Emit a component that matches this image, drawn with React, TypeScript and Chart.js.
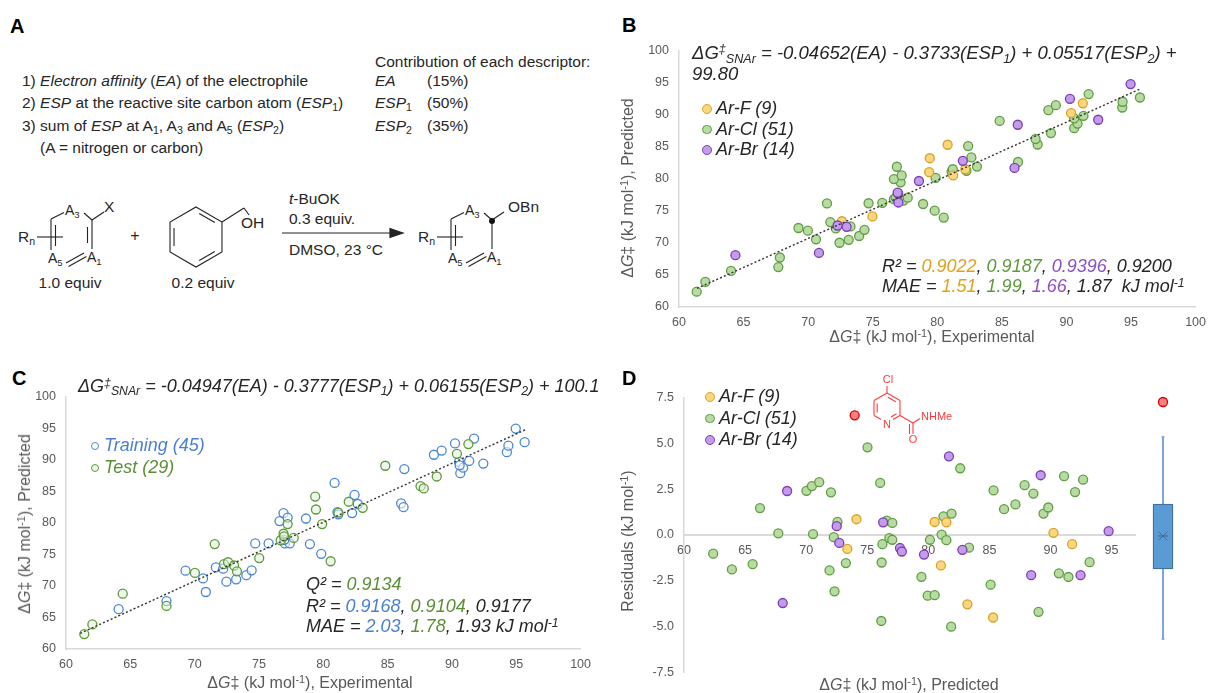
import React, { useEffect, useRef } from "react";
import { Chart, registerables } from "chart.js";

Chart.register(...registerables);

// ---------- axis ticks ----------
const parityTicks = [60, 65, 70, 75, 80, 85, 90, 95, 100];
const predictedTicks = [60, 65, 70, 75, 80, 85, 90, 95];
const residualTicks = [-7.5, -5, -2.5, 0, 2.5, 5, 7.5];

// ---------- panel B: experimental vs predicted, by halogen ----------
const haloLabels = ["Ar-F (9)", "Ar-Cl (51)", "Ar-Br (14)"];
const fExp = [74.98, 72.61, 81.23, 82.17, 79.37, 79.42, 80.8, 90.36, 91.27];
const fPred = [74.12, 73.37, 80.52, 81.48, 81.03, 83.2, 85.3, 90.24, 91.77];
const clExp = [
  61.37, 62.04, 64.03, 67.69, 67.81, 72.43, 73.14, 73.95, 74.36, 70.61,
  72.14, 73.28, 69.98, 69.25, 71.72, 79.8, 78.9, 75.74, 74.68, 71.46,
  77.38, 76.64, 77.71, 76.79, 77.16, 76.64, 79.87, 77.24, 81.11, 82.26,
  81.2, 83.07, 76.87, 86.25, 82.64, 82.39, 87.77, 87.61, 88.8, 90.6,
  90.86, 84.83, 90.6, 91.32, 88.6, 94.32, 89.18, 94.35, 95.69, 91.72, 80.5,
];
const clPred = [
  62.39, 63.92, 65.62, 66.22, 67.72, 70.02, 70.47, 71.07, 72.03, 70.56,
  72.26, 72.56, 71.91, 72.32, 73.25, 75.02, 76.06, 76.24, 76.18, 76.15,
  76.6, 76.81, 77.05, 77.05, 79.44, 79.95, 80.13, 80.52, 81.09, 81.24,
  81.48, 81.9, 81.87, 82.61, 83.33, 85.1, 85.34, 86.2, 87.13, 87.88,
  88.6, 89.02, 89.43, 89.82, 90.69, 91.11, 91.47, 92.01, 92.67, 93.2, 73.95,
];
const brExp = [70.84, 64.37, 72.98, 72.28, 76.99, 76.97, 76.93, 78.58, 85.98, 81.98, 86.23, 92.46, 90.27, 94.97];
const brPred = [68.44, 68.08, 72.5, 72.71, 76.3, 77.68, 77.83, 79.65, 81.69, 82.79, 88.42, 89.2, 92.46, 94.76];
const trendBx = [61.4, 95.7];
const trendBy = [62.9, 94.0];

// ---------- panel C: training / test split ----------
const splitLabels = ["Training (45)", "Test (29)"];
const trainExp = [
  64.09, 67.81, 69.29, 70.65, 70.87, 71.65, 72.22, 72.47, 73.23, 74.02,
  74.43, 74.71, 75.75, 76.6, 76.91, 77.01, 77.23, 77.39, 78.65, 78.96,
  79.84, 80.88, 81.1, 81.17, 82.24, 82.43, 82.68, 86.05, 86.24, 86.3,
  88.6, 89.2, 90.24, 90.55, 90.65, 90.87, 91.34, 91.72, 92.44, 94.27,
  94.39, 94.96, 95.65, 76.97, 90.6,
];
const trainPred = [
  66.31, 67.59, 72.41, 71.18, 69.03, 72.92, 72.72, 70.67, 71.03, 71.69,
  72.46, 76.72, 76.72, 80.26, 81.54, 76.72, 80.82, 76.72, 80.67, 76.62,
  75.08, 86.31, 81.69, 81.33, 81.54, 84.41, 82.97, 83.08, 82.46, 88.51,
  90.77, 91.44, 92.56, 89.64, 87.85, 88.72, 89.79, 93.33, 89.38, 91.18,
  92.21, 94.92, 92.77, 77.3, 89.1,
];
const testExp = [
  61.42, 62.05, 64.41, 67.81, 70.02, 71.56, 72.28, 72.6, 73.07, 73.29,
  75.02, 76.69, 76.91, 76.95, 77.23, 77.7, 79.37, 79.43, 79.91, 80.57,
  81.17, 81.98, 83.06, 84.82, 87.56, 87.81, 88.82, 90.39, 91.28,
];
const testPred = [
  62.36, 63.9, 68.77, 66.82, 72.05, 76.62, 73.44, 73.74, 73.23, 72.31,
  74.41, 77.23, 78.26, 77.85, 79.79, 77.59, 84.15, 82.1, 79.79, 73.9,
  81.59, 83.33, 82.36, 89.03, 85.79, 85.44, 87.33, 90.92, 92.46,
];
const trendCx = [61.1, 95.75];
const trendCy = [62.46, 94.77];

// ---------- panel D: residuals vs predicted ----------
const fPredD = [74.12, 73.37, 80.52, 81.48, 81.03, 83.2, 85.3, 90.24, 91.77];
const fResid = [0.86, -0.76, 0.71, 0.69, -1.66, -3.78, -4.5, 0.12, -0.5];
const clPredD = [
  62.39, 63.92, 65.62, 66.22, 67.72, 70.02, 70.47, 71.07, 72.03, 70.56,
  72.26, 72.56, 71.91, 72.32, 73.25, 75.02, 76.06, 76.24, 76.18, 76.15,
  76.6, 76.81, 77.05, 77.05, 79.44, 79.95, 80.13, 80.52, 81.09, 81.24,
  81.48, 81.9, 81.87, 82.61, 83.33, 85.1, 85.34, 86.2, 87.13, 87.88,
  88.6, 89.02, 89.43, 89.82, 90.69, 91.11, 91.47, 92.01, 92.67, 93.2,
];
const clResid = [
  -1.02, -1.88, -1.59, 1.47, 0.09, 2.41, 2.67, 2.88, 2.33, 0.05,
  -0.12, 0.72, -1.93, -3.07, -1.53, 4.78, 2.84, -0.5, -1.5, -4.69,
  0.78, -0.17, 0.66, -0.26, -2.28, -3.31, -0.26, -3.28, 0.02, 1.02,
  -0.28, 1.17, -5.0, 3.64, -0.69, -2.71, 2.43, 1.41, 1.67, 2.72,
  2.26, -4.19, 1.17, 1.5, -2.09, 3.21, -2.29, 2.34, 3.02, -1.48,
];
const brPredD = [68.44, 68.08, 72.5, 72.71, 76.3, 77.68, 77.83, 79.65, 81.69, 82.79, 88.42, 89.2, 92.46, 94.76];
const brResid = [2.4, -3.71, 0.48, -0.43, 0.69, -0.71, -0.9, -1.07, 4.29, -0.81, -2.19, 3.26, -2.19, 0.21];
const outlierPred = [73.97];
const outlierResid = [6.53];

// box & whisker of all residuals
const boxWhiskers = [-5.38, 5.07];
const boxQuartiles = [-1.76, 1.6];
const boxMedian = [-0.05];
const boxMean = [-0.05];
const boxOutliers = [6.88];

// ---------- styles ----------
const FONT = '"Liberation Sans", Arial, Helvetica, sans-serif';
const INK = "#262626";
const TICK = "#595959";
const AXIS = "#D9D9D9";
const C_F = { fill: "#F9D77E", line: "#D9A227", text: "#E0A21E" };
const C_CL = { fill: "#B9DBA3", line: "#5F9E44", text: "#5E9A3C" };
const C_BR = { fill: "#C49BE8", line: "#7A3DB8", text: "#8B4FCB" };
const C_TR = { fill: "rgba(255,255,255,0.55)", line: "#4A86D8", text: "#4A7FD4" };
const C_TE = { fill: "rgba(226,239,218,0.55)", line: "#5E9A3C", text: "#5A8F37" };
const C_RED = { fill: "#FF7F7F", line: "#D60000" };
const RED = "#FF3B3B";

const zip = (xs: number[], ys: number[]) => xs.map((x, i) => ({ x, y: ys[i] }));

const points = (xs: number[], ys: number[], c: any, order: number) => ({
  type: "scatter",
  data: zip(xs, ys),
  order,
  pointRadius: 4.5,
  pointBorderWidth: 1.3,
  backgroundColor: c.fill,
  borderColor: c.line,
});

const trend = (xs: number[], ys: number[]) => ({
  type: "line",
  data: zip(xs, ys),
  order: 0,
  borderColor: "#333333",
  borderWidth: 1.4,
  borderDash: [2, 2.2],
  pointRadius: 0,
  fill: false,
});

const tickFont = { family: FONT, size: 12.5 };

function axisX(min: number, max: number, ticks: number[], extra: any = {}) {
  return {
    type: "linear",
    min,
    max,
    afterBuildTicks: (s: any) => {
      s.ticks = ticks.map((v) => ({ value: v }));
    },
    afterFit: (s: any) => {
      s.height = 30;
    },
    grid: { display: false, drawTicks: false },
    border: { display: true, color: AXIS, width: 1.5 },
    ticks: { color: TICK, font: tickFont, padding: 8, maxRotation: 0, autoSkip: false },
    ...extra,
  };
}

function axisY(min: number, max: number, ticks: number[], fmt?: (v: number) => string) {
  return {
    type: "linear",
    min,
    max,
    afterBuildTicks: (s: any) => {
      s.ticks = ticks.map((v) => ({ value: v }));
    },
    afterFit: (s: any) => {
      s.width = 45;
    },
    grid: { display: false, drawTicks: false },
    border: { display: true, color: AXIS, width: 1.5 },
    ticks: {
      color: TICK,
      font: tickFont,
      padding: 10,
      autoSkip: false,
      callback: (v: any) => (fmt ? fmt(Number(v)) : String(v)),
    },
  };
}

function baseOptions(padding: any, scales: any) {
  return {
    animation: false,
    responsive: false,
    events: [],
    layout: { padding, autoPadding: false },
    plugins: { legend: { display: false }, tooltip: { enabled: false } },
    scales,
  };
}

function ChartCanvas({ left, top, width, height, config }: any) {
  const ref = useRef<HTMLCanvasElement>(null);
  useEffect(() => {
    if (!ref.current) return;
    const chart = new Chart(ref.current, config());
    return () => chart.destroy();
  }, []);
  return (
    <canvas
      ref={ref}
      width={width}
      height={height}
      style={{ position: "absolute", left, top, width, height }}
    />
  );
}

// ---------- text helpers ----------
const Sub = ({ children }: any) => (
  <span style={{ fontSize: "0.68em", verticalAlign: "-0.28em", lineHeight: 0 }}>{children}</span>
);
const Sup = ({ children }: any) => (
  <span style={{ fontSize: "0.68em", verticalAlign: "0.45em", lineHeight: 0 }}>{children}</span>
);

function Txt({ x, y, size = 18, color = INK, italic = false, bold = false, center = false, children }: any) {
  return (
    <div
      style={{
        position: "absolute",
        left: x,
        top: y - size * 0.6,
        height: size * 1.2,
        lineHeight: `${size * 1.2}px`,
        fontSize: size,
        fontFamily: FONT,
        fontStyle: italic ? "italic" : "normal",
        fontWeight: bold ? 700 : 400,
        color,
        whiteSpace: "nowrap",
        transform: center ? "translateX(-50%)" : undefined,
      }}
    >
      {children}
    </div>
  );
}

function VTxt({ x, y, size = 16, color = TICK, children }: any) {
  return (
    <div
      style={{
        position: "absolute",
        left: x,
        top: y,
        transform: "translate(-50%, -50%) rotate(-90deg)",
        fontSize: size,
        fontFamily: FONT,
        color,
        whiteSpace: "nowrap",
        lineHeight: 1,
      }}
    >
      {children}
    </div>
  );
}

function LegendItem({ x, y, c, label, r = 4.9, color = INK }: any) {
  return (
    <>
      <div
        style={{
          position: "absolute",
          left: x - r,
          top: y - r,
          width: 2 * r,
          height: 2 * r,
          borderRadius: "50%",
          background: c.fill,
          border: `1.3px solid ${c.line}`,
          boxSizing: "border-box",
        }}
      />
      <Txt x={x + 9} y={y} size={18} italic color={color}>
        {label}
      </Txt>
    </>
  );
}

const dG = (
  <>
    Δ<i>G</i>‡ (kJ mol<Sup>-1</Sup>)
  </>
);

// ---------- drawings (reaction scheme & inset molecule) ----------
type P = [number, number];
function innerBond(p: P, q: P, c: P, d = 4, s = 0.2) {
  const mx = (p[0] + q[0]) / 2;
  const my = (p[1] + q[1]) / 2;
  const vx = c[0] - mx;
  const vy = c[1] - my;
  const len = Math.hypot(vx, vy);
  const ox = (vx / len) * d;
  const oy = (vy / len) * d;
  return {
    x1: p[0] + (q[0] - p[0]) * s + ox,
    y1: p[1] + (q[1] - p[1]) * s + oy,
    x2: q[0] - (q[0] - p[0]) * s + ox,
    y2: q[1] - (q[1] - p[1]) * s + oy,
  };
}
function hexPts(cx: number, cy: number, r: number): P[] {
  return [-90, -30, 30, 90, 150, 210].map((a) => [
    cx + r * Math.cos((a * Math.PI) / 180),
    cy + r * Math.sin((a * Math.PI) / 180),
  ]) as P[];
}

function ArylRing({ ox, product }: { ox: number; product?: boolean }) {
  return (
    <g transform={`translate(${ox},0)`} stroke="#222" strokeWidth={1.1} fill="none">
      <line x1={37} y1={237} x2={63} y2={237} />
      <line x1={51} y1={219} x2={51} y2={250} />
      <line x1={55.5} y1={225} x2={55.5} y2={246} />
      <line x1={51} y1={219} x2={64} y2={212.5} />
      <line x1={84} y1={213} x2={92} y2={220} />
      <line x1={92} y1={220} x2={92} y2={249} />
      {!product && <line x1={87.5} y1={227} x2={87.5} y2={243} />}
      <line x1={92} y1={220} x2={104} y2={212} />
      <line x1={66} y1={263} x2={84} y2={253} />
      <line x1={68.5} y1={266.5} x2={86.5} y2={256.5} />
      {product && <circle cx={92} cy={221} r={3} fill="#111" stroke="none" />}
    </g>
  );
}

function Drawings() {
  const benz = hexPts(196, 237, 30);
  const bc: P = [196, 237];
  const pyr = hexPts(887, 408, 15);
  const pc: P = [887, 408];
  return (
    <svg
      width={1214}
      height={693}
      style={{ position: "absolute", left: 0, top: 0, pointerEvents: "none" }}
    >
      <ArylRing ox={0} />
      <ArylRing ox={400} product />
      {/* benzyl alcohol */}
      <g stroke="#222" strokeWidth={1.1} fill="none">
        <polygon points={benz.map((p) => p.join(",")).join(" ")} />
        <line {...innerBond(benz[0], benz[1], bc)} />
        <line {...innerBond(benz[2], benz[3], bc)} />
        <line {...innerBond(benz[4], benz[5], bc)} />
        <line x1={benz[1][0]} y1={benz[1][1]} x2={244} y2={208} />
        <line x1={244} y1={208} x2={249} y2={215} />
      </g>
      {/* reaction arrow */}
      <g stroke="#222" strokeWidth={1.2}>
        <line x1={282} y1={233} x2={394} y2={233} />
        <polygon points="403,233 390,228.5 390,237.5" fill="#222" />
      </g>
      {/* inset molecule in D */}
      <g stroke={RED} strokeWidth={1.1} fill="none">
        <line x1={pyr[5][0]} y1={pyr[5][1]} x2={pyr[0][0]} y2={pyr[0][1]} />
        <line x1={pyr[0][0]} y1={pyr[0][1]} x2={pyr[1][0]} y2={pyr[1][1]} />
        <line x1={pyr[1][0]} y1={pyr[1][1]} x2={pyr[2][0]} y2={pyr[2][1]} />
        <line x1={pyr[2][0]} y1={pyr[2][1]} x2={893} y2={419.5} />
        <line x1={881} y1={419.5} x2={pyr[4][0]} y2={pyr[4][1]} />
        <line x1={pyr[4][0]} y1={pyr[4][1]} x2={pyr[5][0]} y2={pyr[5][1]} />
        <line {...innerBond(pyr[4], pyr[5], pc, 3.2)} />
        <line {...innerBond(pyr[0], pyr[1], pc, 3.2)} />
        <line {...innerBond(pyr[2], [892, 420], pc, 3.2, 0.15)} />
        <line x1={887} y1={393} x2={887} y2={386} />
        <line x1={pyr[2][0]} y1={pyr[2][1]} x2={913} y2={423} />
        <line x1={913} y1={423} x2={920} y2={418.5} />
        <line x1={913} y1={423} x2={913} y2={434} />
        <line x1={909.5} y1={424} x2={909.5} y2={434} />
      </g>
    </svg>
  );
}

// ---------- chart configs ----------
const configB = () => ({
  type: "scatter",
  data: {
    datasets: [
      trend(trendBx, trendBy),
      points(brExp, brPred, C_BR, 1),
      points(fExp, fPred, C_F, 2),
      points(clExp, clPred, C_CL, 3),
    ],
  },
  options: baseOptions(
    { top: 10, right: 14, bottom: 0, left: 0 },
    { x: axisX(60, 100, parityTicks), y: axisY(60, 100, parityTicks) }
  ),
});

const configC = () => ({
  type: "scatter",
  data: {
    datasets: [
      trend(trendCx, trendCy),
      points(testExp, testPred, C_TE, 1),
      points(trainExp, trainPred, C_TR, 2),
    ],
  },
  options: baseOptions(
    { top: 10, right: 14, bottom: 0, left: 0 },
    { x: axisX(60, 100, parityTicks), y: axisY(60, 100, parityTicks) }
  ),
});

const configD = () => ({
  type: "scatter",
  data: {
    datasets: [
      points(outlierPred, outlierResid, C_RED, 0),
      points(brPredD, brResid, C_BR, 1),
      points(fPredD, fResid, C_F, 2),
      points(clPredD, clResid, C_CL, 3),
    ],
  },
  options: baseOptions(
    { top: 10, right: 0, bottom: 10, left: 0 },
    {
      x: axisX(60, 97, predictedTicks, {
        position: { y: 0 },
        border: { display: true, color: AXIS, width: 2 },
      }),
      y: axisY(-7.5, 7.5, residualTicks, (v) => v.toFixed(1)),
    }
  ),
});

const seg = (xs: number[], ys: number[], color: string, width: number, order: number) => ({
  type: "line",
  data: zip(xs, ys),
  borderColor: color,
  borderWidth: width,
  pointRadius: 0,
  fill: false,
  order,
});

const configBox = () => ({
  type: "scatter",
  data: {
    datasets: [
      {
        type: "scatter",
        data: zip([1], boxMean),
        pointStyle: "crossRot",
        pointRadius: 6,
        borderColor: "#3F6E9C",
        borderWidth: 1,
        order: 0,
      },
      points([1], boxOutliers, C_RED, 0),
      seg([0.667, 1.333], [boxMedian[0], boxMedian[0]], "#3F6E9C", 1.2, 1),
      {
        type: "bar",
        data: [{ x: 1, y: boxQuartiles }],
        backgroundColor: "#5B9BD5",
        borderColor: "#41719C",
        borderWidth: 1.3,
        borderSkipped: false,
        barThickness: 20,
        order: 2,
      },
      seg([1, 1], [boxQuartiles[1], boxWhiskers[1]], "#7EA7D3", 2, 3),
      seg([1, 1], [boxWhiskers[0], boxQuartiles[0]], "#7EA7D3", 2, 3),
      seg([0.9, 1.1], [boxWhiskers[1], boxWhiskers[1]], "#7EA7D3", 1.6, 3),
      seg([0.9, 1.1], [boxWhiskers[0], boxWhiskers[0]], "#7EA7D3", 1.6, 3),
    ],
  },
  options: baseOptions(
    { top: 10, right: 0, bottom: 10, left: 0 },
    {
      x: { type: "linear", min: 0, max: 2, display: false },
      y: { type: "linear", min: -7.5, max: 7.5, display: false },
    }
  ),
});

// ---------- panels ----------
function PanelA() {
  const s = 15.5;
  return (
    <>
      <Txt x={10} y={26} size={20} bold color="#000">A</Txt>
      <Txt x={22} y={81} size={s}>
        1) <i>Electron affinity</i> (<i>EA</i>) of the electrophile
      </Txt>
      <Txt x={22} y={103} size={s}>
        2) <i>ESP</i> at the reactive site carbon atom (<i>ESP</i><Sub>1</Sub>)
      </Txt>
      <Txt x={22} y={126} size={s}>
        3) sum of <i>ESP</i> at A<Sub>1</Sub>, A<Sub>3</Sub> and A<Sub>5</Sub> (<i>ESP</i><Sub>2</Sub>)
      </Txt>
      <Txt x={40} y={148} size={s}>(A = nitrogen or carbon)</Txt>
      <Txt x={375} y={62} size={s}>Contribution of each descriptor:</Txt>
      <Txt x={375} y={81} size={s}><i>EA</i></Txt>
      <Txt x={427} y={81} size={s}>(15%)</Txt>
      <Txt x={375} y={103} size={s}><i>ESP</i><Sub>1</Sub></Txt>
      <Txt x={427} y={103} size={s}>(50%)</Txt>
      <Txt x={375} y={126} size={s}><i>ESP</i><Sub>2</Sub></Txt>
      <Txt x={427} y={126} size={s}>(35%)</Txt>

      <Txt x={18} y={237} size={s}>R<Sub>n</Sub></Txt>
      <Txt x={65} y={210} size={14}>A<Sub>3</Sub></Txt>
      <Txt x={104} y={207} size={s}>X</Txt>
      <Txt x={48} y={258} size={14}>A<Sub>5</Sub></Txt>
      <Txt x={87} y={257} size={14}>A<Sub>1</Sub></Txt>
      <Txt x={135} y={236} size={16} center>+</Txt>
      <Txt x={241} y={223} size={s}>OH</Txt>
      <Txt x={289} y={199} size={s}><i>t</i>-BuOK</Txt>
      <Txt x={289} y={219} size={s}>0.3 equiv.</Txt>
      <Txt x={289} y={250} size={s}>DMSO, 23 °C</Txt>
      <Txt x={418} y={237} size={s}>R<Sub>n</Sub></Txt>
      <Txt x={465} y={210} size={14}>A<Sub>3</Sub></Txt>
      <Txt x={508} y={207} size={s}>OBn</Txt>
      <Txt x={448} y={258} size={14}>A<Sub>5</Sub></Txt>
      <Txt x={487} y={257} size={14}>A<Sub>1</Sub></Txt>
      <Txt x={70} y={283} size={s} center>1.0 equiv</Txt>
      <Txt x={203} y={283} size={s} center>0.2 equiv</Txt>
    </>
  );
}

function PanelB() {
  return (
    <>
      <Txt x={622} y={25} size={20} bold color="#000">B</Txt>
      <ChartCanvas left={634} top={33} width={580} height={304} config={configB} />
      <VTxt x={628} y={188}>{dG}, Predicted</VTxt>
      <Txt x={932} y={337} size={16} color={TICK} center>{dG}, Experimental</Txt>
      <Txt x={692} y={53} size={18.5} italic>
        ΔG<Sup>‡</Sup><Sub>SNAr</Sub> = -0.04652(EA) - 0.3733(ESP<Sub>1</Sub>) + 0.05517(ESP<Sub>2</Sub>) +
      </Txt>
      <Txt x={692} y={74} size={18.5} italic>99.80</Txt>
      <LegendItem x={707} y={109} c={C_F} label={haloLabels[0]} />
      <LegendItem x={707} y={129.5} c={C_CL} label={haloLabels[1]} />
      <LegendItem x={707} y={150} c={C_BR} label={haloLabels[2]} />
      <Txt x={882} y={267} size={18} italic>
        R² = <span style={{ color: C_F.text }}>0.9022</span>,{" "}
        <span style={{ color: C_CL.text }}>0.9187</span>,{" "}
        <span style={{ color: C_BR.text }}>0.9396</span>, 0.9200
      </Txt>
      <Txt x={882} y={287} size={18} italic>
        MAE = <span style={{ color: C_F.text }}>1.51</span>,{" "}
        <span style={{ color: C_CL.text }}>1.99</span>,{" "}
        <span style={{ color: C_BR.text }}>1.66</span>, 1.87&nbsp; kJ mol<Sup>-1</Sup>
      </Txt>
    </>
  );
}

function PanelC() {
  return (
    <>
      <Txt x={12} y={378} size={20} bold color="#000">C</Txt>
      <ChartCanvas left={21} top={379} width={578} height={300} config={configC} />
      <VTxt x={25} y={524}>{dG}, Predicted</VTxt>
      <Txt x={310} y={683} size={16} color={TICK} center>{dG}, Experimental</Txt>
      <Txt x={78} y={387} size={18} italic>
        ΔG<Sup>‡</Sup><Sub>SNAr</Sub> = -0.04947(EA) - 0.3777(ESP<Sub>1</Sub>) + 0.06155(ESP<Sub>2</Sub>) + 100.1
      </Txt>
      <LegendItem x={95} y={446} c={C_TR} label={splitLabels[0]} r={4.2} color={C_TR.text} />
      <LegendItem x={95} y={468} c={C_TE} label={splitLabels[1]} r={4.2} color={C_TE.text} />
      <Txt x={306} y={585} size={18} italic>
        Q² = <span style={{ color: C_TE.text }}>0.9134</span>
      </Txt>
      <Txt x={306} y={607} size={18} italic>
        R² = <span style={{ color: C_TR.text }}>0.9168</span>,{" "}
        <span style={{ color: C_TE.text }}>0.9104</span>, 0.9177
      </Txt>
      <Txt x={306} y={627} size={18} italic>
        MAE = <span style={{ color: C_TR.text }}>2.03</span>,{" "}
        <span style={{ color: C_TE.text }}>1.78</span>, 1.93 kJ mol<Sup>-1</Sup>
      </Txt>
    </>
  );
}

function PanelD() {
  return (
    <>
      <Txt x={622} y={378} size={20} bold color="#000">D</Txt>
      <ChartCanvas left={639} top={380} width={497} height={310} config={configD} />
      <ChartCanvas left={1133} top={380} width={60} height={310} config={configBox} />
      <VTxt x={628} y={541}>
        Residuals (kJ mol<Sup>-1</Sup>)
      </VTxt>
      <Txt x={909} y={685} size={16} color={TICK} center>{dG}, Predicted</Txt>
      <LegendItem x={710} y={397} c={C_F} label={haloLabels[0]} />
      <LegendItem x={710} y={418.5} c={C_CL} label={haloLabels[1]} />
      <LegendItem x={710} y={440} c={C_BR} label={haloLabels[2]} />
      <Txt x={888} y={380} size={11} color={RED} center>Cl</Txt>
      <Txt x={887} y={425} size={11} color={RED} center>N</Txt>
      <Txt x={921} y={417} size={11} color={RED}>NHMe</Txt>
      <Txt x={913} y={440} size={11} color={RED} center>O</Txt>
    </>
  );
}

export default function App() {
  return (
    <div
      style={{
        position: "absolute",
        left: 0,
        top: 0,
        width: 1214,
        height: 693,
        background: "#fff",
        overflow: "hidden",
        fontFamily: FONT,
      }}
    >
      <Drawings />
      <PanelA />
      <PanelB />
      <PanelC />
      <PanelD />
    </div>
  );
}
